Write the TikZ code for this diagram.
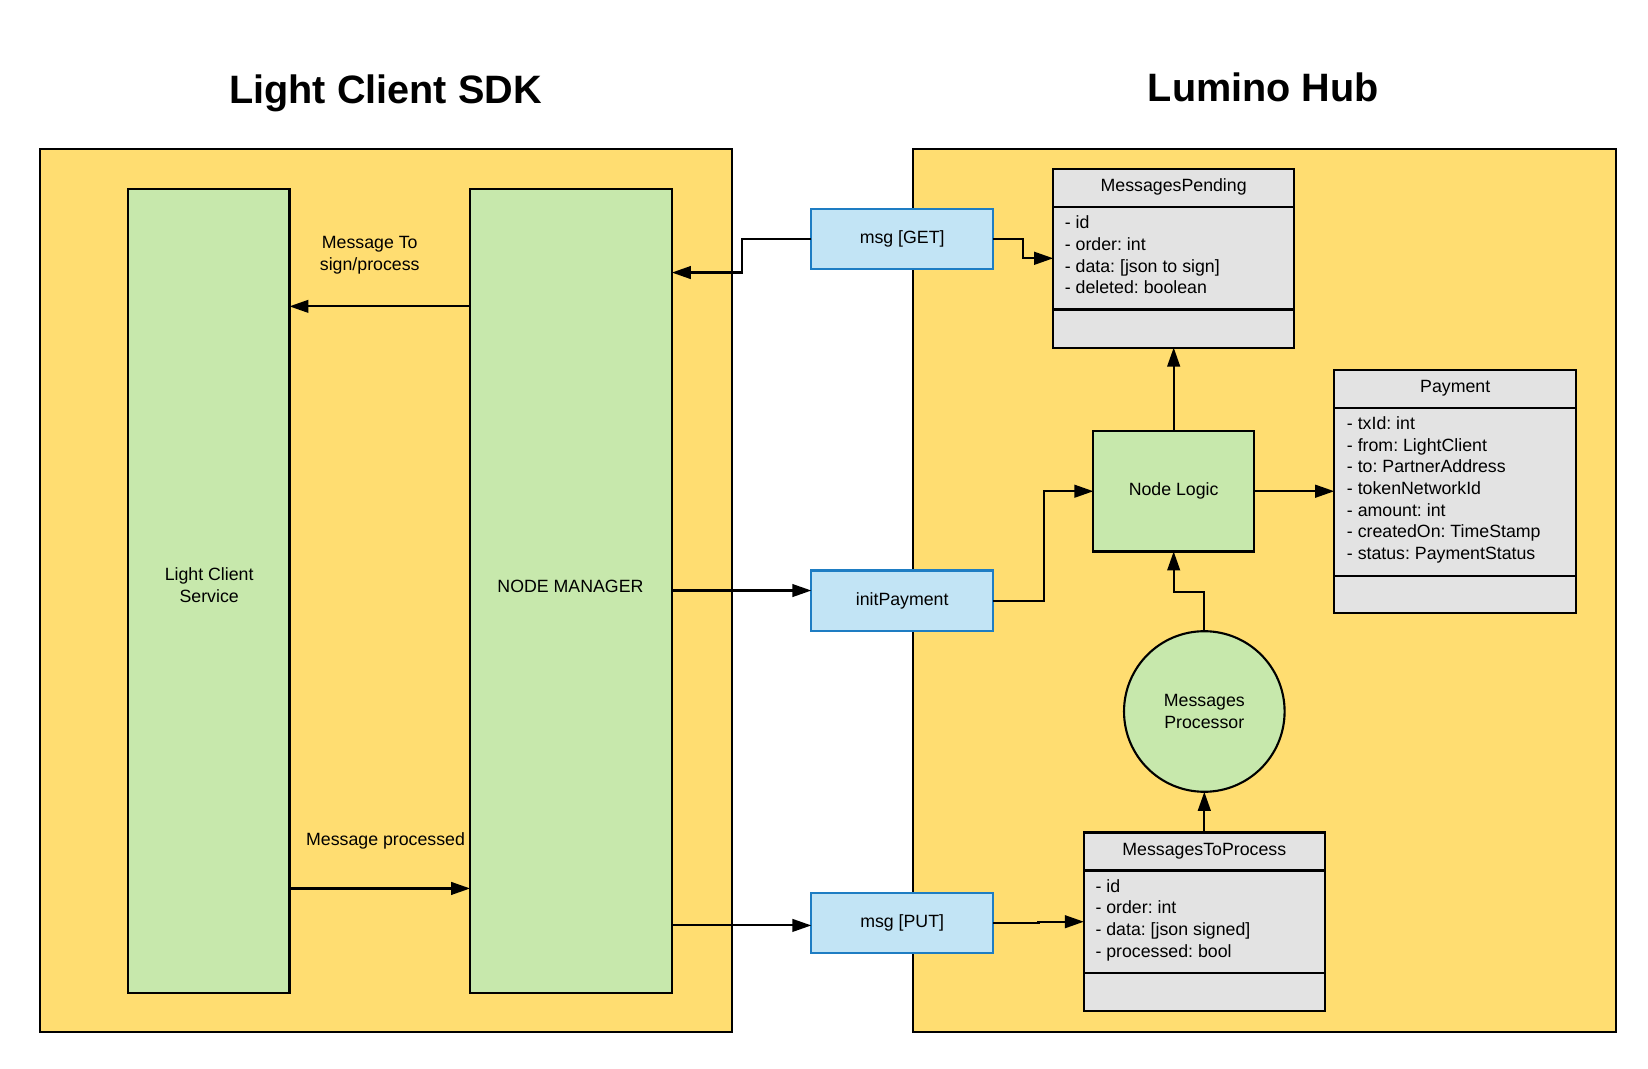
\documentclass[tikz,border=0pt]{standalone}
\usepackage{fontspec}
\setmainfont{Liberation Sans}
\usetikzlibrary{arrows.meta,calc}
\definecolor{yel}{RGB}{255,221,113}
\definecolor{grn}{RGB}{199,232,172}
\definecolor{blu}{RGB}{194,228,245}
\definecolor{bluline}{RGB}{30,125,195}
\definecolor{gry}{RGB}{227,227,227}
\frenchspacing
\begin{document}
\begin{tikzpicture}[x=1pt,y=-1pt,
  every node/.style={font=\fontsize{16.8}{20.5}\selectfont, inner sep=0pt, outer sep=0pt},
  outerbox/.style={draw=black, fill=yel, line width=2pt},
  greenbox/.style={draw=black, fill=grn, line width=2pt, align=center},
  bluebox/.style={draw=bluline, fill=blu, line width=2pt, minimum width=172pt, minimum height=57pt},
  umlbox/.style={draw=black, fill=gry, line width=2pt},
  umlline/.style={draw=black, line width=2pt},
  titletext/.style={font=\fontsize{37.5}{45}\selectfont\bfseries},
  plain/.style={align=center},
  arr/.style={line width=2pt, -{Triangle[length=18pt,width=12pt]}},
]
\useasboundingbox (0,0) rectangle (1560,1011);

% titles
\node[titletext] (t1) at (365,88) {Light Client SDK};
\node[titletext] (t2) at (1196,83) {Lumino Hub};

% outer containers
\node[outerbox, minimum width=655pt, minimum height=836pt] (sdk) at (365.5,559) {};
\node[outerbox, minimum width=666pt, minimum height=836pt] (hub) at (1197,559) {};

% SDK boxes
\node[greenbox, minimum width=153pt, minimum height=761pt] (lcs) at (197.5,559.5) {};
\node[plain] (lcst) at (198,554) {Light Client\\Service};
\node[greenbox, minimum width=191pt, minimum height=761pt] (nm) at (540.5,559.5) {};
\node[plain] (nmt) at (540,555) {NODE MANAGER};

% API boxes
\node[bluebox] (get) at (854,226.5) {msg [GET]};
\node[bluebox] (init) at (854,568.5) {initPayment};
\node[bluebox] (put) at (854,873.5) {msg [PUT]};

% Hub: MessagesPending
\node[umlbox, minimum width=228pt, minimum height=169pt] (mp) at (1111,244.5) {};
\draw[umlline] ([yshift=-36pt]mp.north west) -- ([yshift=-36pt]mp.north east);
\draw[umlline] ([yshift=-133pt]mp.north west) -- ([yshift=-133pt]mp.north east);
\node[anchor=base] (mph) at (1111,181.5) {MessagesPending};
\foreach \t [count=\i from 0] in {{- id},{- order: int},{- data: [json to sign]},{- deleted: boolean}}
  \node[anchor=base west] (mpa\i) at (1008,{216.5+20.5*\i}) {\t};

% Payment
\node[umlbox, minimum width=229pt, minimum height=230pt] (pay) at (1377.5,465) {};
\draw[umlline] ([yshift=-36pt]pay.north west) -- ([yshift=-36pt]pay.north east);
\draw[umlline] ([yshift=-195pt]pay.north west) -- ([yshift=-195pt]pay.north east);
\node[anchor=base] (payh) at (1377.5,371.5) {Payment};
\foreach \t [count=\i from 0] in {{- txId: int},{- from: LightClient},{- to: PartnerAddress},{- tokenNetworkId},{- amount: int},{- createdOn: TimeStamp},{- status: PaymentStatus}}
  \node[anchor=base west] (paya\i) at (1275,{406.5+20.5*\i}) {\t};

% Node Logic
\node[greenbox, minimum width=152pt, minimum height=114pt] (nl) at (1111,465) {Node Logic};

% Messages Processor
\node[draw=black, fill=grn, line width=2pt, circle, minimum size=152pt, align=center] (proc) at (1140,673.5) {Messages\\Processor};

% MessagesToProcess
\node[umlbox, minimum width=228pt, minimum height=169pt] (mtp) at (1140,872.5) {};
\draw[umlline] ([yshift=-36pt]mtp.north west) -- ([yshift=-36pt]mtp.north east);
\draw[umlline] ([yshift=-133pt]mtp.north west) -- ([yshift=-133pt]mtp.north east);
\node[anchor=base] (mtph) at (1140,809.5) {MessagesToProcess};
\foreach \t [count=\i from 0] in {{- id},{- order: int},{- data: [json signed]},{- processed: bool}}
  \node[anchor=base west] (mtpa\i) at (1037,{844.5+20.5*\i}) {\t};

% connector labels
\node[plain] (lbl1) at (350,241.5) {Message To\\sign/process};
\node[plain] (lbl2) at (365,796) {Message processed};

% connectors
\coordinate (nmA) at ([yshift=-79pt]nm.north east);
\draw[arr] (get.west) -- ++(-66,0) |- (nmA);
\draw[arr] (get.east) -- ++(28,0) |- (mp.west);

\coordinate (nmL) at ([yshift=-111pt]nm.north west);
\draw[arr] (nmL) -- (nmL -| lcs.east);

\coordinate (lcsB) at ([yshift=-662pt]lcs.north east);
\draw[arr] (lcsB) -- (lcsB -| nm.west);

\coordinate (nmI) at ([yshift=-380pt]nm.north east);
\draw[arr] (nmI) -- (nmI -| init.west);

\coordinate (nmP) at ([yshift=-697pt]nm.north east);
\draw[arr] (nmP) -- (nmP -| put.west);

\draw[arr] (init.east) -- ++(48,0) |- (nl.west);
\draw[arr] (nl.north) -- (mp.south);
\draw[arr] (nl.east) -- (pay.west);
\draw[arr] (proc.north) -- ++(0,-37) -| (nl.south);
\draw[arr] (mtp.north) -- (proc.south);
\draw[arr] (put.east) -- ++(43,0) |- (mtp.west);
\end{tikzpicture}
\end{document}
